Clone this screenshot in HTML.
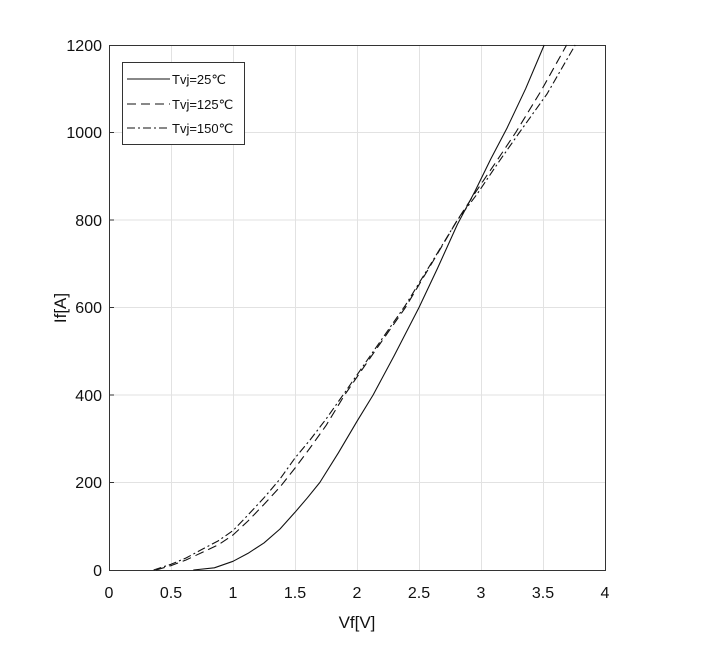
<!DOCTYPE html><html><head><style>body{margin:0;background:#fff}</style></head><body>
<svg width="703" height="655" xmlns="http://www.w3.org/2000/svg" font-family="Liberation Sans, Arial, sans-serif">
<rect width="703" height="655" fill="#fff"/>
<g stroke="#e2e2e2" stroke-width="1">
<line x1="171.5" y1="45" x2="171.5" y2="570"/><line x1="233.5" y1="45" x2="233.5" y2="570"/><line x1="295.5" y1="45" x2="295.5" y2="570"/><line x1="357.5" y1="45" x2="357.5" y2="570"/><line x1="419.5" y1="45" x2="419.5" y2="570"/><line x1="481.5" y1="45" x2="481.5" y2="570"/><line x1="543.5" y1="45" x2="543.5" y2="570"/>
<line x1="109" y1="482.5" x2="605" y2="482.5"/><line x1="109" y1="395" x2="605" y2="395"/><line x1="109" y1="307.5" x2="605" y2="307.5"/><line x1="109" y1="220" x2="605" y2="220"/><line x1="109" y1="132.5" x2="605" y2="132.5"/>
</g>
<rect x="109.5" y="45.5" width="496" height="525" fill="none" stroke="#333" stroke-width="1"/>
<g stroke="#333"><line x1="109.5" y1="482.5" x2="114" y2="482.5"/><line x1="109.5" y1="395" x2="114" y2="395"/><line x1="109.5" y1="307.5" x2="114" y2="307.5"/><line x1="109.5" y1="220" x2="114" y2="220"/><line x1="109.5" y1="132.5" x2="114" y2="132.5"/></g>
<g fill="none" stroke="#111" stroke-width="1.1" stroke-linejoin="round">
<polyline points="193.3,570 214.4,567.8 233,561.3 247.9,553.4 264,542.9 280,529 295,512.3 307.4,497.8 319.8,482.5 338.4,452.8 357,421.3 373.1,395 394.2,355.6 419,307.5 437.6,268.1 457.4,224.4 474.8,191.6 490.9,158.8 507,128.1 525.6,88.8 544.2,45"/>
<polyline stroke-dasharray="9,5" points="156.1,570 171,565.6 186,560 202,552.5 218,545 233,535 248,521 264,504.4 280,487 295,468.1 310,448 326,425.6 344.6,395 375,351 405.4,307.5 432,263 457.4,220 476,191.6 496,162 515.7,132.5 541,91 566.6,45"/>
<polyline stroke-dasharray="8,3,2,3" points="153.6,570 171,564.3 186,558 202,549.4 218,541 233,530.6 248,515 264,497.8 280,479 295,458 310,440 326,419.1 344.6,392.8 375,349 405.4,305.3 432,262 457.4,220 477.3,193.8 498,163 519.4,132.5 547,94 575.2,45"/>
</g>
<rect x="122.5" y="62.5" width="122" height="82" fill="#fff" stroke="#333"/>
<g stroke="#111" stroke-width="1.1"><line x1="127" y1="79" x2="170" y2="79"/><line x1="127" y1="104" x2="170" y2="104" stroke-dasharray="9,5"/><line x1="127" y1="128" x2="170" y2="128" stroke-dasharray="8,3,2,3"/></g>
<g font-size="13" fill="#111"><text x="172" y="84">Tvj=25℃</text><text x="172" y="109">Tvj=125℃</text><text x="172" y="133">Tvj=150℃</text></g>
<g font-size="16" fill="#111" text-anchor="end"><text x="102" y="576">0</text><text x="102" y="488">200</text><text x="102" y="401">400</text><text x="102" y="313">600</text><text x="102" y="226">800</text><text x="102" y="138">1000</text><text x="102" y="51">1200</text></g>
<g font-size="16" fill="#111" text-anchor="middle"><text x="109" y="598">0</text><text x="171" y="598">0.5</text><text x="233" y="598">1</text><text x="295" y="598">1.5</text><text x="357" y="598">2</text><text x="419" y="598">2.5</text><text x="481" y="598">3</text><text x="543" y="598">3.5</text><text x="605" y="598">4</text></g>
<text x="357" y="628" font-size="17" text-anchor="middle" fill="#111">Vf[V]</text>
<text transform="translate(66,308) rotate(-90)" font-size="17" text-anchor="middle" fill="#111">If[A]</text>
</svg></body></html>
